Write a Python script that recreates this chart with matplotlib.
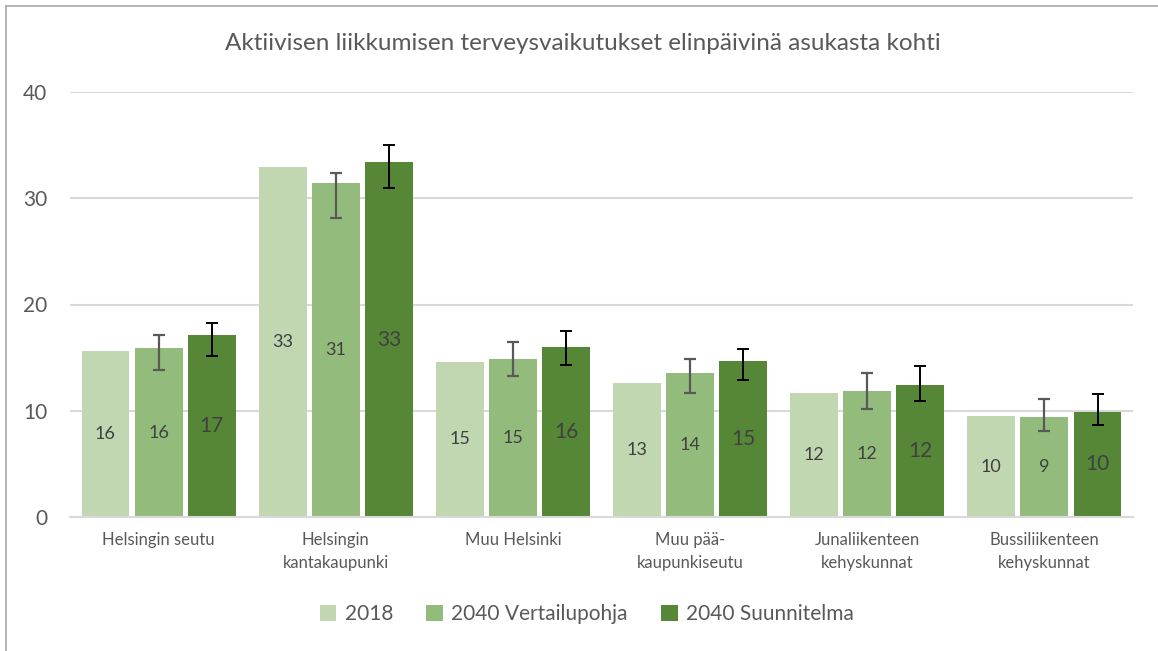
import numpy as np
import matplotlib.pyplot as plt
from matplotlib.lines import Line2D

plt.rcParams["font.family"] = ["Lato", "DejaVu Sans"]

categories = [
    "Helsingin seutu",
    "Helsingin\nkantakaupunki",
    "Muu Helsinki",
    "Muu pää-\nkaupunkiseutu",
    "Junaliikenteen\nkehyskunnat",
    "Bussiliikenteen\nkehyskunnat",
]
series_names = ["2018", "2040 Vertailupohja", "2040 Suunnitelma"]

v2018 = [15.6, 32.9, 14.6, 12.6, 11.7, 9.5]
v2040_vert = [15.9, 31.4, 14.9, 13.6, 11.9, 9.4]
v2040_suun = [17.1, 33.4, 16.0, 14.7, 12.4, 9.9]

# error bar ends (low / high)
vert_low = [13.8, 28.1, 13.3, 11.7, 10.2, 8.1]
vert_high = [17.1, 32.4, 16.5, 14.9, 13.6, 11.1]
suun_low = [15.2, 31.0, 14.3, 12.9, 10.9, 8.7]
suun_high = [18.3, 35.0, 17.5, 15.8, 14.2, 11.6]

colors = ["#c0d7b2", "#93bb7b", "#568737"]
txt = "#404040"
axis_txt = "#595959"

fig = plt.figure(figsize=(11.58, 6.51), dpi=100)
ax = fig.add_axes([70 / 1158, 1 - 517 / 651, 1063 / 1158, 425 / 651])

x = np.arange(len(categories))
w = 0.27
step = 0.30

series = [v2018, v2040_vert, v2040_suun]
label_sizes = [13, 13, 15]
for i, vals in enumerate(series):
    pos = x + (i - 1) * step
    bars = ax.bar(pos, vals, width=w, color=colors[i], label=series_names[i], zorder=2)
    for b, v in zip(bars, vals):
        ax.text(
            b.get_x() + b.get_width() / 2,
            v / 2,
            str(int(round(v))),
            ha="center",
            va="center",
            fontsize=label_sizes[i],
            color=txt,
            zorder=4,
        )

vv = np.array(v2040_vert)
ax.errorbar(
    x,
    vv,
    yerr=[vv - np.array(vert_low), np.array(vert_high) - vv],
    fmt="none",
    ecolor="#595959",
    elinewidth=1.6,
    capsize=4.5,
    capthick=1.6,
    zorder=3,
)
vs = np.array(v2040_suun)
ax.errorbar(
    x + step,
    vs,
    yerr=[vs - np.array(suun_low), np.array(suun_high) - vs],
    fmt="none",
    ecolor="black",
    elinewidth=1.4,
    capsize=4.5,
    capthick=1.4,
    zorder=3,
)

ax.set_xlim(-0.5, len(categories) - 0.5)
ax.set_ylim(0, 40)
ax.set_yticks([0, 10, 20, 30, 40])
ax.grid(axis="y", color="#d9d9d9", linewidth=1.5, zorder=0)
ax.set_axisbelow(True)
for s in ["top", "right", "left"]:
    ax.spines[s].set_visible(False)
ax.spines["bottom"].set_color("#d9d9d9")
ax.spines["bottom"].set_linewidth(1.5)

ax.set_xticks(x)
ax.set_xticklabels(categories, fontsize=12, color=axis_txt, linespacing=1.55, va="top")
ax.tick_params(axis="x", length=0, pad=11)
ax.tick_params(axis="y", length=0, pad=16.5, labelsize=15, labelcolor=axis_txt)

fig.text(
    583 / 1158,
    1 - 44 / 651,
    "Aktiivisen liikkumisen terveysvaikutukset elinpäivinä asukasta kohti",
    ha="center",
    va="center",
    fontsize=17.5,
    color=axis_txt,
)

fig.legend(
    loc="center",
    bbox_to_anchor=(587 / 1158, 1 - 614 / 651),
    ncol=3,
    frameon=False,
    fontsize=15,
    labelcolor=axis_txt,
    handlelength=0.8,
    handleheight=0.8,
    handletextpad=0.4,
    columnspacing=1.6,
)

# chart frame (left and top edge)
fig.add_artist(Line2D([5.5 / 1158, 5.5 / 1158], [0, 1 - 5.5 / 651], transform=fig.transFigure, color="#a6a6a6", linewidth=1.2))
fig.add_artist(Line2D([5.5 / 1158, 1], [1 - 5.5 / 651, 1 - 5.5 / 651], transform=fig.transFigure, color="#a6a6a6", linewidth=1.2))

fig.savefig("out.png", dpi=100)
